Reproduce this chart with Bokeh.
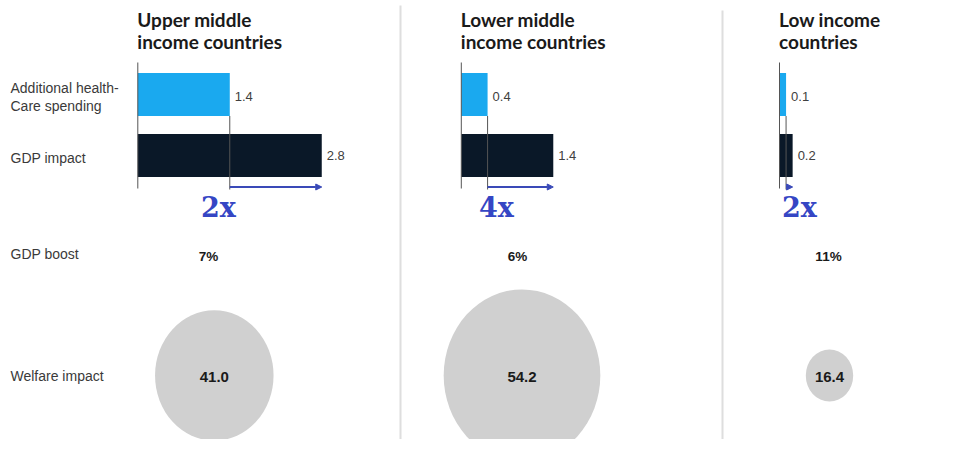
from bokeh.plotting import figure
from bokeh.models import Range1d, Arrow, NormalHead
from bokeh.core.properties import value
from bokeh.embed import file_html
from bokeh.resources import INLINE

# ---------------- data ----------------
title_line1 = ["Upper middle", "Lower middle", "Low income"]
title_line2 = ["income countries", "income countries", "countries"]
healthcare_spending = [1.4, 0.4, 0.1]
gdp_impact = [2.8, 1.4, 0.2]
multiplier_labels = ["2x", "4x", "2x"]
gdp_boost = ["7%", "6%", "11%"]
welfare_impact = [41.0, 54.2, 16.4]
row_labels = ["Additional  health-", "Care spending", "GDP impact", "GDP boost", "Welfare impact"]

# ---------------- layout / style ----------------
W, H = 943, 439
X0, X1 = 0, W
Y0, Y1 = 0, H
panel_origin = [137.3, 460.8, 779.0]
PX_PER_UNIT = 65.7
y_health, y_gdp = 94.0, 155.0
bar_h = 43.0
axis_top, axis_bot = 62.0, 188.0
arrow_y = 186.5
mult_x = [218.0, 496.0, 799.0]
mult_y = 207.0
boost_x = [208.0, 517.0, 828.0]
boost_y = 256.0
circle_x = [213.8, 521.5, 829.0]
circle_y = 375.0
CIRCLE_SCALE = 2.89
row_label_y = [87.0, 105.5, 157.0, 253.0, 375.0]
title_y = [19.0, 41.0]
separators_x = [400.0, 722.0]

BLUE = "#1aa9ef"
DARK = "#0a1828"
ARROW = "#3a4ab8"
MULT = "#3546c4"
GREY = "#d0d0d0"
TXT = "#3a3a3a"
SANS = value("Liberation Sans")

p = figure(width=W, height=H, x_range=Range1d(X0, X1), y_range=Range1d(Y1, Y0),
           output_backend="svg", toolbar_location=None, min_border=0,
           x_axis_location=None, y_axis_location=None,
           outline_line_color=None, background_fill_color="white",
           border_fill_color="white")
p.grid.visible = False

# separators
p.segment(x0=separators_x, y0=[5, 10], x1=separators_x, y1=[452, 452],
          line_color="#dedede", line_width=2)

# row labels
p.text(x=[10] * len(row_labels), y=row_label_y, text=row_labels,
       text_font=SANS, text_font_size="14px", text_color=TXT,
       text_baseline="middle", text_align="left")

for i, ox in enumerate(panel_origin):
    name = f"panel{i}"
    p.extra_x_ranges[name] = Range1d((X0 - ox) / PX_PER_UNIT, (X1 - ox) / PX_PER_UNIT)
    hs = healthcare_spending[i]
    gi = gdp_impact[i]

    # titles
    p.text(x=[ox - 0.5, ox - 0.5], y=title_y, text=[title_line1[i], title_line2[i]],
           text_font=value("Lato"), text_font_style="bold", text_font_size="19px",
           text_color="#1a1a1a", text_baseline="middle")

    # bars
    p.hbar(y=[y_health], left=0, right=[hs], height=bar_h, x_range_name=name,
           fill_color=BLUE, line_color=None)
    p.hbar(y=[y_gdp], left=0, right=[gi], height=bar_h, x_range_name=name,
           fill_color=DARK, line_color=None)

    # axis and drop line
    p.segment(x0=[0], y0=[axis_top], x1=[0], y1=[axis_bot], x_range_name=name,
              line_color="#555555", line_width=1)
    p.segment(x0=[hs], y0=[y_health + bar_h / 2], x1=[hs], y1=[axis_bot + 1],
              x_range_name=name, line_color="#555555", line_width=1)

    # value labels
    p.text(x=[hs, gi], y=[y_health + 1.5, y_gdp], text=[f"{hs:.1f}", f"{gi:.1f}"],
           x_range_name=name, x_offset=5, text_font=SANS, text_font_size="13px",
           text_color="#404040", text_baseline="middle")

    # arrow
    p.add_layout(Arrow(x_start=hs, y_start=arrow_y, x_end=gi, y_end=arrow_y,
                       x_range_name=name, line_color=ARROW, line_width=2,
                       end=NormalHead(size=6, fill_color=ARROW, line_color=ARROW)))

# multiplier labels
p.text(x=mult_x, y=[mult_y] * 3, text=multiplier_labels,
       text_font=value("DejaVu Serif"), text_font_style="bold", text_font_size="27px",
       text_color=MULT, text_baseline="middle", text_align="center")

# GDP boost
p.text(x=boost_x, y=[boost_y] * 3, text=gdp_boost, text_font=SANS, text_font_style="bold",
       text_font_size="13.5px", text_color="#1a1a1a", text_baseline="middle",
       text_align="center")

# welfare circles
p.ellipse(x=circle_x, y=[circle_y] * 3,
          width=[v * CIRCLE_SCALE for v in welfare_impact],
          height=[v * CIRCLE_SCALE * 1.1 for v in welfare_impact],
          width_units="screen", height_units="screen",
          fill_color=GREY, line_color=None)
p.text(x=circle_x, y=[circle_y + 1] * 3, text=[f"{v:.1f}" for v in welfare_impact],
       text_font=SANS, text_font_style="bold", text_font_size="15px",
       text_color="#1a1a1a", text_baseline="middle", text_align="center")

open("out.html", "w").write(file_html(p, INLINE))
